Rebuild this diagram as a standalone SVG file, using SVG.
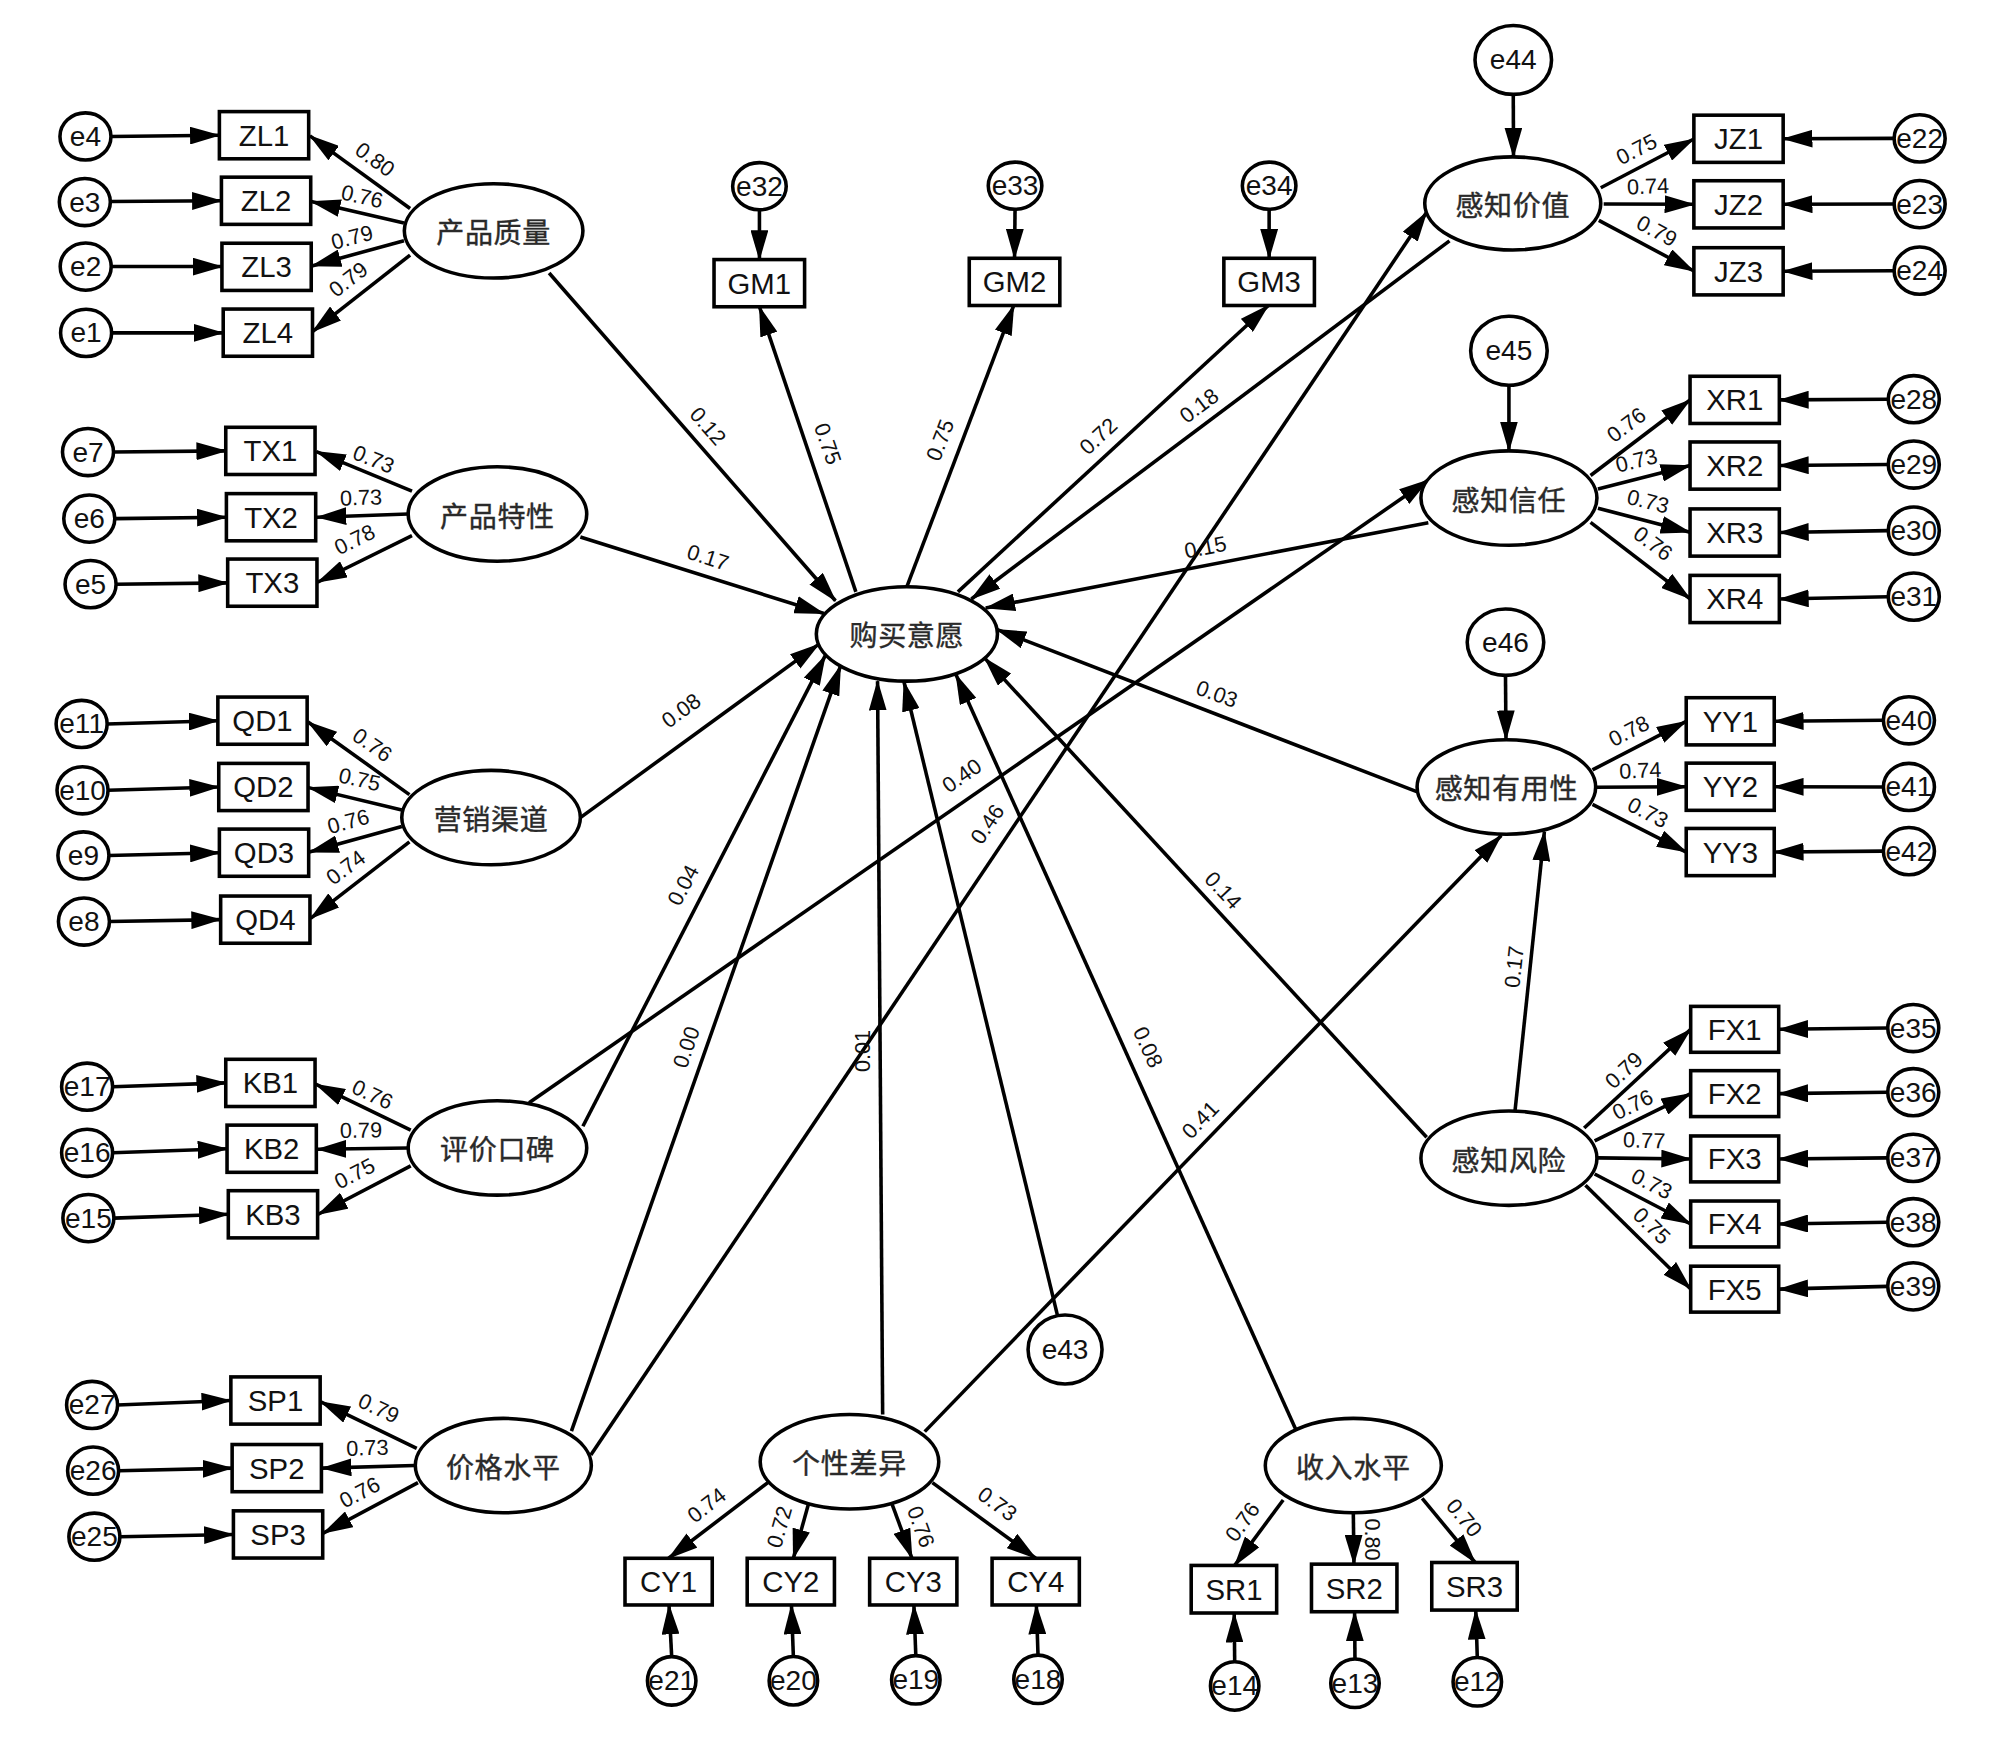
<svg xmlns="http://www.w3.org/2000/svg" width="2000" height="1747" viewBox="0 0 2000 1747">
<defs>
<style>
.c{stroke:#000;stroke-width:2.8;fill:none;marker-end:url(#a)}
.b{fill:#fff;stroke:#000;stroke-width:2.8}
.t{font-family:"Liberation Sans",Arial,sans-serif;font-size:23px;text-anchor:middle;dominant-baseline:central;fill:#111}
.e{font-family:"Liberation Sans",Arial,sans-serif;font-size:22px;text-anchor:middle;dominant-baseline:central;fill:#111}
.z{font-family:"Noto Sans CJK SC","Noto Sans CJK JP",sans-serif;font-size:22px;letter-spacing:0.5px;text-anchor:middle;dominant-baseline:central;fill:#2a2a2a;stroke:#2a2a2a;stroke-width:0.3}
.n{font-family:"Liberation Sans",Arial,sans-serif;font-size:17px;text-anchor:middle;dominant-baseline:central;fill:#111}
</style>
<marker id="a" markerUnits="userSpaceOnUse" markerWidth="24" markerHeight="14" refX="23" refY="7" orient="auto" viewBox="0 0 24 14"><path d="M0,0 L24,7 L0,14 z" fill="#000"/></marker>
</defs>
<rect width="2000" height="1747" fill="#fff"/>
<g transform="scale(1.27551)">
<g id="connectors">
<line class="c" x1="87" y1="107" x2="172" y2="106"/>
<line class="c" x1="86.5" y1="158" x2="173.6" y2="157.4"/>
<line class="c" x1="87" y1="209" x2="174" y2="209"/>
<line class="c" x1="87.5" y1="261" x2="175" y2="261"/>
<line class="c" x1="89" y1="354.4" x2="177" y2="353.5"/>
<line class="c" x1="90" y1="406.6" x2="177.5" y2="405.5"/>
<line class="c" x1="91" y1="458" x2="178.5" y2="457"/>
<line class="c" x1="84" y1="567.6" x2="171" y2="565"/>
<line class="c" x1="84.7" y1="619.6" x2="171.5" y2="617"/>
<line class="c" x1="85.4" y1="670.7" x2="172" y2="668.5"/>
<line class="c" x1="85.8" y1="722.5" x2="173" y2="721"/>
<line class="c" x1="88.3" y1="852" x2="177" y2="849"/>
<line class="c" x1="88.3" y1="903.8" x2="178" y2="900.6"/>
<line class="c" x1="89.3" y1="955" x2="179" y2="952"/>
<line class="c" x1="92" y1="1101.5" x2="181" y2="1098"/>
<line class="c" x1="93" y1="1153" x2="182" y2="1151"/>
<line class="c" x1="94" y1="1204.8" x2="183" y2="1203"/>
<line class="c" x1="321.5" y1="163.5" x2="243" y2="106.5"/>
<line class="c" x1="316.7" y1="174.8" x2="244" y2="158"/>
<line class="c" x1="316.7" y1="188.7" x2="244.5" y2="208.5"/>
<line class="c" x1="321.5" y1="200" x2="245" y2="260"/>
<line class="c" x1="323" y1="385" x2="248" y2="354"/>
<line class="c" x1="320" y1="403" x2="248.5" y2="405.5"/>
<line class="c" x1="323" y1="420" x2="249" y2="456.5"/>
<line class="c" x1="321" y1="623" x2="241.5" y2="566"/>
<line class="c" x1="315" y1="635" x2="242" y2="617.5"/>
<line class="c" x1="315" y1="648" x2="242.5" y2="668"/>
<line class="c" x1="321" y1="660" x2="243.5" y2="720"/>
<line class="c" x1="322" y1="886" x2="247.5" y2="850"/>
<line class="c" x1="320" y1="900" x2="248.5" y2="901"/>
<line class="c" x1="322" y1="914" x2="249.5" y2="952"/>
<line class="c" x1="326.7" y1="1135.5" x2="251.5" y2="1099"/>
<line class="c" x1="325" y1="1149" x2="252.5" y2="1151"/>
<line class="c" x1="327.7" y1="1162.4" x2="253.5" y2="1202"/>
<line class="c" x1="595.4" y1="164" x2="595.4" y2="203.5"/>
<line class="c" x1="795.8" y1="163.6" x2="795.4" y2="202.5"/>
<line class="c" x1="995" y1="163.6" x2="995" y2="202.5"/>
<line class="c" x1="671" y1="464" x2="595.4" y2="240.5"/>
<line class="c" x1="711" y1="460" x2="794.8" y2="239.5"/>
<line class="c" x1="751" y1="464" x2="994.4" y2="239.5"/>
<line class="c" x1="430.5" y1="214" x2="655" y2="471"/>
<line class="c" x1="455" y1="421" x2="646" y2="481"/>
<line class="c" x1="455" y1="641" x2="642" y2="505"/>
<line class="c" x1="457" y1="883" x2="647" y2="514"/>
<line class="c" x1="448" y1="1122" x2="659" y2="522"/>
<line class="c" x1="692" y1="1109" x2="688" y2="534"/>
<line class="c" x1="829" y1="1031" x2="708.7" y2="534.5"/>
<line class="c" x1="1016" y1="1121" x2="749.5" y2="529"/>
<line class="c" x1="1118.5" y1="891.6" x2="772" y2="516"/>
<line class="c" x1="1110.7" y1="620.7" x2="781.4" y2="493.4"/>
<line class="c" x1="1119.8" y1="409.8" x2="772.8" y2="476.6"/>
<line class="c" x1="1136.4" y1="188.8" x2="761.6" y2="469.6"/>
<line class="c" x1="414.8" y1="864.5" x2="1119.8" y2="376.3"/>
<line class="c" x1="463.2" y1="1140.8" x2="1118.5" y2="166.4"/>
<line class="c" x1="725" y1="1122.4" x2="1177" y2="655"/>
<line class="c" x1="1187.8" y1="870.7" x2="1210.8" y2="652"/>
<line class="c" x1="1186.4" y1="74" x2="1186.6" y2="123"/>
<line class="c" x1="1183" y1="302" x2="1183" y2="353.5"/>
<line class="c" x1="1180.3" y1="529.5" x2="1180.7" y2="580"/>
<line class="c" x1="1255" y1="147.2" x2="1328" y2="109"/>
<line class="c" x1="1257.3" y1="160" x2="1328" y2="160.2"/>
<line class="c" x1="1253.5" y1="172.8" x2="1328" y2="212.5"/>
<line class="c" x1="1247" y1="372.8" x2="1325" y2="313.6"/>
<line class="c" x1="1252.8" y1="383.4" x2="1325" y2="365"/>
<line class="c" x1="1252.8" y1="398.4" x2="1325" y2="417.3"/>
<line class="c" x1="1247" y1="409.6" x2="1325" y2="469.4"/>
<line class="c" x1="1248.5" y1="603.6" x2="1322" y2="565.5"/>
<line class="c" x1="1250.2" y1="617.2" x2="1322" y2="616.8"/>
<line class="c" x1="1248.5" y1="630.6" x2="1322" y2="668"/>
<line class="c" x1="1242" y1="884.4" x2="1325.5" y2="807"/>
<line class="c" x1="1250.2" y1="894.5" x2="1325.5" y2="857.4"/>
<line class="c" x1="1252.8" y1="907.8" x2="1325.5" y2="908.6"/>
<line class="c" x1="1250.2" y1="920.4" x2="1325.5" y2="959.6"/>
<line class="c" x1="1243" y1="929.3" x2="1325.5" y2="1010.5"/>
<line class="c" x1="1485" y1="108.5" x2="1398" y2="108.8"/>
<line class="c" x1="1485" y1="160" x2="1398" y2="160.2"/>
<line class="c" x1="1485" y1="212.2" x2="1398" y2="212.7"/>
<line class="c" x1="1480.4" y1="313" x2="1395" y2="313.5"/>
<line class="c" x1="1480.4" y1="364.2" x2="1395" y2="365"/>
<line class="c" x1="1480.4" y1="416" x2="1395" y2="417.5"/>
<line class="c" x1="1480.4" y1="467.8" x2="1395" y2="469.6"/>
<line class="c" x1="1476.6" y1="564.7" x2="1391" y2="565.5"/>
<line class="c" x1="1476.6" y1="617" x2="1391" y2="616.8"/>
<line class="c" x1="1476.6" y1="667.3" x2="1391" y2="668"/>
<line class="c" x1="1480" y1="806" x2="1394.5" y2="807"/>
<line class="c" x1="1480" y1="856.3" x2="1394.5" y2="857.4"/>
<line class="c" x1="1480" y1="907.8" x2="1394.5" y2="908.6"/>
<line class="c" x1="1480" y1="958.2" x2="1394.5" y2="959.6"/>
<line class="c" x1="1480" y1="1008.5" x2="1394.5" y2="1010.7"/>
<line class="c" x1="602" y1="1162.4" x2="524.2" y2="1221.7"/>
<line class="c" x1="634" y1="1178.6" x2="622" y2="1221.7"/>
<line class="c" x1="699.3" y1="1179" x2="715" y2="1221.7"/>
<line class="c" x1="731" y1="1162.4" x2="812" y2="1221.7"/>
<line class="c" x1="1006" y1="1176" x2="968" y2="1227.3"/>
<line class="c" x1="1061" y1="1186" x2="1061.5" y2="1226.3"/>
<line class="c" x1="1115" y1="1174.7" x2="1156.5" y2="1225"/>
<line class="c" x1="526.6" y1="1298.8" x2="524.5" y2="1258.3"/>
<line class="c" x1="622" y1="1298.7" x2="620.5" y2="1258.3"/>
<line class="c" x1="718" y1="1298" x2="716.5" y2="1258.3"/>
<line class="c" x1="813.8" y1="1297.6" x2="812.5" y2="1258.3"/>
<line class="c" x1="968" y1="1302.8" x2="967.6" y2="1264.7"/>
<line class="c" x1="1062.3" y1="1300.7" x2="1062" y2="1263.7"/>
<line class="c" x1="1158.2" y1="1299.5" x2="1157" y2="1262.4"/>
</g>
<g id="labels">
<text class="n" transform="translate(294,125) rotate(36)">0.80</text>
<text class="n" transform="translate(284,154) rotate(13)">0.76</text>
<text class="n" transform="translate(276,186) rotate(-15)">0.79</text>
<text class="n" transform="translate(273,219) rotate(-38)">0.79</text>
<text class="n" transform="translate(293,360) rotate(22)">0.73</text>
<text class="n" transform="translate(283,390) rotate(-2)">0.73</text>
<text class="n" transform="translate(278,423) rotate(-26)">0.78</text>
<text class="n" transform="translate(292,584) rotate(35)">0.76</text>
<text class="n" transform="translate(282,611) rotate(13)">0.75</text>
<text class="n" transform="translate(273,644) rotate(-15)">0.76</text>
<text class="n" transform="translate(271,680) rotate(-37)">0.74</text>
<text class="n" transform="translate(292,858) rotate(25)">0.76</text>
<text class="n" transform="translate(283,886) rotate(-1)">0.79</text>
<text class="n" transform="translate(278,920) rotate(-27)">0.75</text>
<text class="n" transform="translate(297,1104) rotate(25)">0.79</text>
<text class="n" transform="translate(288,1135) rotate(-2)">0.73</text>
<text class="n" transform="translate(282,1170) rotate(-28)">0.76</text>
<text class="n" transform="translate(555,334) rotate(49)">0.12</text>
<text class="n" transform="translate(555,437) rotate(18)">0.17</text>
<text class="n" transform="translate(534,557) rotate(-36)">0.08</text>
<text class="n" transform="translate(535.5,694) rotate(-62)">0.04</text>
<text class="n" transform="translate(538,821) rotate(-71)">0.00</text>
<text class="n" transform="translate(676,824) rotate(-90)">0.01</text>
<text class="n" transform="translate(649,348) rotate(71)">0.75</text>
<text class="n" transform="translate(737,345) rotate(-69)">0.75</text>
<text class="n" transform="translate(861,342) rotate(-43)">0.72</text>
<text class="n" transform="translate(940,318) rotate(-37)">0.18</text>
<text class="n" transform="translate(945,429) rotate(-11)">0.15</text>
<text class="n" transform="translate(954,544) rotate(20)">0.03</text>
<text class="n" transform="translate(959,698) rotate(47)">0.14</text>
<text class="n" transform="translate(754,608) rotate(-35)">0.40</text>
<text class="n" transform="translate(774,646) rotate(-56)">0.46</text>
<text class="n" transform="translate(900,821) rotate(65.5)">0.08</text>
<text class="n" transform="translate(941,878) rotate(-46)">0.41</text>
<text class="n" transform="translate(1187,758) rotate(-84)">0.17</text>
<text class="n" transform="translate(1283,117) rotate(-27)">0.75</text>
<text class="n" transform="translate(1292,146) rotate(-2)">0.74</text>
<text class="n" transform="translate(1299,181) rotate(28)">0.79</text>
<text class="n" transform="translate(1275,333) rotate(-37)">0.76</text>
<text class="n" transform="translate(1283,361) rotate(-14)">0.73</text>
<text class="n" transform="translate(1292,393) rotate(14)">0.73</text>
<text class="n" transform="translate(1296,426) rotate(37)">0.76</text>
<text class="n" transform="translate(1277,573) rotate(-27)">0.78</text>
<text class="n" transform="translate(1286,604) rotate(-2)">0.74</text>
<text class="n" transform="translate(1292,637) rotate(27)">0.73</text>
<text class="n" transform="translate(1273,839) rotate(-43)">0.79</text>
<text class="n" transform="translate(1280,866) rotate(-26)">0.76</text>
<text class="n" transform="translate(1289,894) rotate(2)">0.77</text>
<text class="n" transform="translate(1295,928) rotate(27)">0.73</text>
<text class="n" transform="translate(1295,961) rotate(44)">0.75</text>
<text class="n" transform="translate(554,1180) rotate(-38)">0.74</text>
<text class="n" transform="translate(611,1197) rotate(-74)">0.72</text>
<text class="n" transform="translate(722,1197) rotate(70)">0.76</text>
<text class="n" transform="translate(782,1179) rotate(36)">0.73</text>
<text class="n" transform="translate(974,1193) rotate(-54)">0.76</text>
<text class="n" transform="translate(1076,1207) rotate(90)">0.80</text>
<text class="n" transform="translate(1148,1190) rotate(50)">0.70</text>
</g>
<g id="latents">
<g id="n-cpzl"><ellipse class="b" cx="387" cy="181" rx="70" ry="37"/><text class="z" x="387" y="181">产品质量</text></g>
<g id="n-cptx"><ellipse class="b" cx="390" cy="403" rx="70" ry="37"/><text class="z" x="390" y="403">产品特性</text></g>
<g id="n-yxqd"><ellipse class="b" cx="385" cy="641" rx="70" ry="37"/><text class="z" x="385" y="641">营销渠道</text></g>
<g id="n-pjkb"><ellipse class="b" cx="390" cy="900" rx="70" ry="37"/><text class="z" x="390" y="900">评价口碑</text></g>
<g id="n-jgsp"><ellipse class="b" cx="394.6" cy="1149" rx="69" ry="37"/><text class="z" x="394.6" y="1149">价格水平</text></g>
<g id="n-gmyy"><ellipse class="b" cx="711" cy="497" rx="71" ry="37"/><text class="z" x="711" y="497">购买意愿</text></g>
<g id="n-gzjz"><ellipse class="b" cx="1186" cy="159.5" rx="69" ry="36.5"/><text class="z" x="1186" y="159.5">感知价值</text></g>
<g id="n-gzxr"><ellipse class="b" cx="1183" cy="390.5" rx="69" ry="37"/><text class="z" x="1183" y="390.5">感知信任</text></g>
<g id="n-gzyy"><ellipse class="b" cx="1181" cy="617" rx="70" ry="37"/><text class="z" x="1181" y="617">感知有用性</text></g>
<g id="n-gzfx"><ellipse class="b" cx="1183" cy="908" rx="69" ry="37"/><text class="z" x="1183" y="908">感知风险</text></g>
<g id="n-gxcy"><ellipse class="b" cx="666" cy="1146" rx="70" ry="37"/><text class="z" x="666" y="1146">个性差异</text></g>
<g id="n-srsp"><ellipse class="b" cx="1061" cy="1149" rx="69" ry="37"/><text class="z" x="1061" y="1149">收入水平</text></g>
</g>
<g id="observed">
<g id="n-ZL1"><rect class="b" x="172" y="87.5" width="70" height="37"/><text class="t" x="207" y="106">ZL1</text></g>
<g id="n-ZL2"><rect class="b" x="173.6" y="138.9" width="70" height="37"/><text class="t" x="208.6" y="157.4">ZL2</text></g>
<g id="n-ZL3"><rect class="b" x="174" y="190.7" width="70" height="37"/><text class="t" x="209" y="209.2">ZL3</text></g>
<g id="n-ZL4"><rect class="b" x="175" y="242.3" width="70" height="37"/><text class="t" x="210" y="260.8">ZL4</text></g>
<g id="n-TX1"><rect class="b" x="177" y="335" width="70" height="37"/><text class="t" x="212" y="353.5">TX1</text></g>
<g id="n-TX2"><rect class="b" x="177.5" y="387" width="70" height="37"/><text class="t" x="212.5" y="405.5">TX2</text></g>
<g id="n-TX3"><rect class="b" x="178.5" y="438.3" width="70" height="37"/><text class="t" x="213.5" y="456.8">TX3</text></g>
<g id="n-QD1"><rect class="b" x="170.8" y="546.5" width="70" height="37"/><text class="t" x="205.8" y="565">QD1</text></g>
<g id="n-QD2"><rect class="b" x="171.5" y="598.5" width="70" height="37"/><text class="t" x="206.5" y="617">QD2</text></g>
<g id="n-QD3"><rect class="b" x="172" y="650" width="70" height="37"/><text class="t" x="207" y="668.5">QD3</text></g>
<g id="n-QD4"><rect class="b" x="173" y="702.5" width="70" height="37"/><text class="t" x="208" y="721">QD4</text></g>
<g id="n-KB1"><rect class="b" x="177" y="830.5" width="70" height="37"/><text class="t" x="212" y="849">KB1</text></g>
<g id="n-KB2"><rect class="b" x="178" y="882.1" width="70" height="37"/><text class="t" x="213" y="900.6">KB2</text></g>
<g id="n-KB3"><rect class="b" x="179" y="933.5" width="70" height="37"/><text class="t" x="214" y="952">KB3</text></g>
<g id="n-SP1"><rect class="b" x="181" y="1079.5" width="70" height="37"/><text class="t" x="216" y="1098">SP1</text></g>
<g id="n-SP2"><rect class="b" x="182" y="1132.5" width="70" height="37"/><text class="t" x="217" y="1151">SP2</text></g>
<g id="n-SP3"><rect class="b" x="183" y="1184.5" width="70" height="37"/><text class="t" x="218" y="1203">SP3</text></g>
<g id="n-GM1"><rect class="b" x="559.8" y="203.5" width="71" height="37"/><text class="t" x="595.3" y="222">GM1</text></g>
<g id="n-GM2"><rect class="b" x="759.9" y="202.5" width="71" height="37"/><text class="t" x="795.4" y="221">GM2</text></g>
<g id="n-GM3"><rect class="b" x="959.5" y="202.5" width="71" height="37"/><text class="t" x="995" y="221">GM3</text></g>
<g id="n-JZ1"><rect class="b" x="1328" y="90.3" width="70" height="37"/><text class="t" x="1363" y="108.8">JZ1</text></g>
<g id="n-JZ2"><rect class="b" x="1328" y="141.7" width="70" height="37"/><text class="t" x="1363" y="160.2">JZ2</text></g>
<g id="n-JZ3"><rect class="b" x="1328" y="194.2" width="70" height="37"/><text class="t" x="1363" y="212.7">JZ3</text></g>
<g id="n-XR1"><rect class="b" x="1325" y="295" width="70" height="37"/><text class="t" x="1360" y="313.5">XR1</text></g>
<g id="n-XR2"><rect class="b" x="1325" y="346.5" width="70" height="37"/><text class="t" x="1360" y="365">XR2</text></g>
<g id="n-XR3"><rect class="b" x="1325" y="399" width="70" height="37"/><text class="t" x="1360" y="417.5">XR3</text></g>
<g id="n-XR4"><rect class="b" x="1325" y="451.1" width="70" height="37"/><text class="t" x="1360" y="469.6">XR4</text></g>
<g id="n-YY1"><rect class="b" x="1322" y="547" width="69" height="37"/><text class="t" x="1356.6" y="565.5">YY1</text></g>
<g id="n-YY2"><rect class="b" x="1322" y="598.3" width="69" height="37"/><text class="t" x="1356.6" y="616.8">YY2</text></g>
<g id="n-YY3"><rect class="b" x="1322" y="649.5" width="69" height="37"/><text class="t" x="1356.6" y="668">YY3</text></g>
<g id="n-FX1"><rect class="b" x="1325.5" y="789" width="69" height="36"/><text class="t" x="1360" y="807">FX1</text></g>
<g id="n-FX2"><rect class="b" x="1325.5" y="839.4" width="69" height="36"/><text class="t" x="1360" y="857.4">FX2</text></g>
<g id="n-FX3"><rect class="b" x="1325.5" y="890.6" width="69" height="36"/><text class="t" x="1360" y="908.6">FX3</text></g>
<g id="n-FX4"><rect class="b" x="1325.5" y="941.6" width="69" height="36"/><text class="t" x="1360" y="959.6">FX4</text></g>
<g id="n-FX5"><rect class="b" x="1325.5" y="992.7" width="69" height="36"/><text class="t" x="1360" y="1010.7">FX5</text></g>
<g id="n-CY1"><rect class="b" x="490" y="1221.7" width="68.4" height="36.6"/><text class="t" x="524.2" y="1240">CY1</text></g>
<g id="n-CY2"><rect class="b" x="585.8" y="1221.7" width="68.4" height="36.6"/><text class="t" x="620" y="1240">CY2</text></g>
<g id="n-CY3"><rect class="b" x="681.8" y="1221.7" width="68.4" height="36.6"/><text class="t" x="716" y="1240">CY3</text></g>
<g id="n-CY4"><rect class="b" x="777.8" y="1221.7" width="68.4" height="36.6"/><text class="t" x="812" y="1240">CY4</text></g>
<g id="n-SR1"><rect class="b" x="933.9" y="1227.3" width="67" height="37.3"/><text class="t" x="967.4" y="1246">SR1</text></g>
<g id="n-SR2"><rect class="b" x="1028.2" y="1226.3" width="67" height="37.3"/><text class="t" x="1061.7" y="1245">SR2</text></g>
<g id="n-SR3"><rect class="b" x="1122.5" y="1225" width="67" height="37.3"/><text class="t" x="1156" y="1243.7">SR3</text></g>
</g>
<g id="errors">
<g id="n-e4"><ellipse class="b" cx="67" cy="107" rx="20" ry="18.5"/><text class="e" x="67" y="107">e4</text></g>
<g id="n-e3"><ellipse class="b" cx="66.5" cy="158.4" rx="20" ry="18.5"/><text class="e" x="66.5" y="158.4">e3</text></g>
<g id="n-e2"><ellipse class="b" cx="67.2" cy="209" rx="20" ry="18.5"/><text class="e" x="67.2" y="209">e2</text></g>
<g id="n-e1"><ellipse class="b" cx="67.5" cy="261" rx="20" ry="18.5"/><text class="e" x="67.5" y="261">e1</text></g>
<g id="n-e7"><ellipse class="b" cx="69" cy="354.4" rx="20" ry="18.5"/><text class="e" x="69" y="354.4">e7</text></g>
<g id="n-e6"><ellipse class="b" cx="70" cy="406.6" rx="20" ry="18.5"/><text class="e" x="70" y="406.6">e6</text></g>
<g id="n-e5"><ellipse class="b" cx="71" cy="458" rx="20" ry="18.5"/><text class="e" x="71" y="458">e5</text></g>
<g id="n-e11"><ellipse class="b" cx="64" cy="567.6" rx="20" ry="18.5"/><text class="e" x="64" y="567.6">e11</text></g>
<g id="n-e10"><ellipse class="b" cx="64.7" cy="619.6" rx="20" ry="18.5"/><text class="e" x="64.7" y="619.6">e10</text></g>
<g id="n-e9"><ellipse class="b" cx="65.4" cy="670.7" rx="20" ry="18.5"/><text class="e" x="65.4" y="670.7">e9</text></g>
<g id="n-e8"><ellipse class="b" cx="65.8" cy="722.5" rx="20" ry="18.5"/><text class="e" x="65.8" y="722.5">e8</text></g>
<g id="n-e17"><ellipse class="b" cx="68.3" cy="852" rx="20" ry="18.5"/><text class="e" x="68.3" y="852">e17</text></g>
<g id="n-e16"><ellipse class="b" cx="68.3" cy="903.8" rx="20" ry="18.5"/><text class="e" x="68.3" y="903.8">e16</text></g>
<g id="n-e15"><ellipse class="b" cx="69.3" cy="955" rx="20" ry="18.5"/><text class="e" x="69.3" y="955">e15</text></g>
<g id="n-e27"><ellipse class="b" cx="72.2" cy="1101.5" rx="20" ry="18.5"/><text class="e" x="72.2" y="1101.5">e27</text></g>
<g id="n-e26"><ellipse class="b" cx="73" cy="1153" rx="20" ry="18.5"/><text class="e" x="73" y="1153">e26</text></g>
<g id="n-e25"><ellipse class="b" cx="74" cy="1204.8" rx="20" ry="18.5"/><text class="e" x="74" y="1204.8">e25</text></g>
<g id="n-e32"><ellipse class="b" cx="595.4" cy="146" rx="21" ry="18.5"/><text class="e" x="595.4" y="146">e32</text></g>
<g id="n-e33"><ellipse class="b" cx="795.8" cy="145.6" rx="21" ry="18.5"/><text class="e" x="795.8" y="145.6">e33</text></g>
<g id="n-e34"><ellipse class="b" cx="995" cy="145.6" rx="21" ry="18.5"/><text class="e" x="995" y="145.6">e34</text></g>
<g id="n-e22"><ellipse class="b" cx="1505" cy="108.5" rx="20" ry="18.5"/><text class="e" x="1505" y="108.5">e22</text></g>
<g id="n-e23"><ellipse class="b" cx="1505" cy="160" rx="20" ry="18.5"/><text class="e" x="1505" y="160">e23</text></g>
<g id="n-e24"><ellipse class="b" cx="1505" cy="212.2" rx="20" ry="18.5"/><text class="e" x="1505" y="212.2">e24</text></g>
<g id="n-e28"><ellipse class="b" cx="1500.4" cy="313" rx="20" ry="18.5"/><text class="e" x="1500.4" y="313">e28</text></g>
<g id="n-e29"><ellipse class="b" cx="1500.4" cy="364.2" rx="20" ry="18.5"/><text class="e" x="1500.4" y="364.2">e29</text></g>
<g id="n-e30"><ellipse class="b" cx="1500.4" cy="416" rx="20" ry="18.5"/><text class="e" x="1500.4" y="416">e30</text></g>
<g id="n-e31"><ellipse class="b" cx="1500.4" cy="467.8" rx="20" ry="18.5"/><text class="e" x="1500.4" y="467.8">e31</text></g>
<g id="n-e40"><ellipse class="b" cx="1496.6" cy="564.7" rx="20" ry="18.5"/><text class="e" x="1496.6" y="564.7">e40</text></g>
<g id="n-e41"><ellipse class="b" cx="1496.6" cy="617" rx="20" ry="18.5"/><text class="e" x="1496.6" y="617">e41</text></g>
<g id="n-e42"><ellipse class="b" cx="1496.6" cy="667.3" rx="20" ry="18.5"/><text class="e" x="1496.6" y="667.3">e42</text></g>
<g id="n-e35"><ellipse class="b" cx="1500" cy="806" rx="20" ry="18.5"/><text class="e" x="1500" y="806">e35</text></g>
<g id="n-e36"><ellipse class="b" cx="1500" cy="856.3" rx="20" ry="18.5"/><text class="e" x="1500" y="856.3">e36</text></g>
<g id="n-e37"><ellipse class="b" cx="1500" cy="907.8" rx="20" ry="18.5"/><text class="e" x="1500" y="907.8">e37</text></g>
<g id="n-e38"><ellipse class="b" cx="1500" cy="958.2" rx="20" ry="18.5"/><text class="e" x="1500" y="958.2">e38</text></g>
<g id="n-e39"><ellipse class="b" cx="1500" cy="1008.5" rx="20" ry="18.5"/><text class="e" x="1500" y="1008.5">e39</text></g>
<g id="n-e21"><ellipse class="b" cx="526.6" cy="1317.8" rx="19" ry="19"/><text class="e" x="526.6" y="1317.8">e21</text></g>
<g id="n-e20"><ellipse class="b" cx="622" cy="1317.7" rx="19" ry="19"/><text class="e" x="622" y="1317.7">e20</text></g>
<g id="n-e19"><ellipse class="b" cx="718" cy="1317" rx="19" ry="19"/><text class="e" x="718" y="1317">e19</text></g>
<g id="n-e18"><ellipse class="b" cx="813.8" cy="1316.6" rx="19" ry="19"/><text class="e" x="813.8" y="1316.6">e18</text></g>
<g id="n-e14"><ellipse class="b" cx="968" cy="1321.8" rx="19" ry="19"/><text class="e" x="968" y="1321.8">e14</text></g>
<g id="n-e13"><ellipse class="b" cx="1062.3" cy="1319.7" rx="19" ry="19"/><text class="e" x="1062.3" y="1319.7">e13</text></g>
<g id="n-e12"><ellipse class="b" cx="1158.2" cy="1318.5" rx="19" ry="19"/><text class="e" x="1158.2" y="1318.5">e12</text></g>
<g id="n-e43"><ellipse class="b" cx="835" cy="1058" rx="29" ry="27"/><text class="e" x="835" y="1058">e43</text></g>
<g id="n-e44"><ellipse class="b" cx="1186.4" cy="47" rx="30" ry="27"/><text class="e" x="1186.4" y="47">e44</text></g>
<g id="n-e45"><ellipse class="b" cx="1183" cy="275" rx="30" ry="27"/><text class="e" x="1183" y="275">e45</text></g>
<g id="n-e46"><ellipse class="b" cx="1180.3" cy="503.5" rx="30" ry="26"/><text class="e" x="1180.3" y="503.5">e46</text></g>
</g>
</g>
</svg>
